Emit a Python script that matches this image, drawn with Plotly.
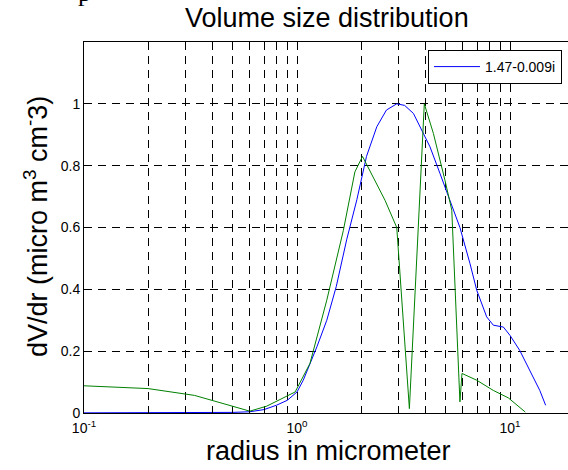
import plotly.graph_objects as go
import math

# ---- data ----
r_blue = [0.1, 0.2, 0.3, 0.4, 0.5, 0.6, 0.7, 0.8, 0.9, 1.0, 1.07, 1.24, 1.38, 1.53, 1.71,
          1.91, 2.12, 2.37, 2.63, 2.94, 3.2, 3.52, 3.92, 4.21, 4.69, 5.23, 5.82, 6.49, 6.98,
          7.77, 8.35, 9.31, 10.0, 11.1, 12.4, 13.8, 14.7]
v_blue = [0.0005, 0.0007, 0.001, 0.0015, 0.002, 0.004, 0.011, 0.025, 0.041, 0.068, 0.106,
          0.214, 0.30, 0.41, 0.56, 0.69, 0.83, 0.926, 0.98, 1.0, 0.995, 0.969, 0.904, 0.861,
          0.775, 0.688, 0.60, 0.483, 0.397, 0.311, 0.284, 0.278, 0.251, 0.203, 0.138, 0.073,
          0.025]

r_green = [0.1, 0.2, 0.33, 0.6, 0.72, 0.98, 1.15, 1.38, 1.65, 1.87, 2.03, 2.28, 2.59, 2.94,
           3.37, 3.96, 4.37, 4.95, 5.33, 5.82, 5.95, 6.98, 8.35, 9.82, 11.8]
v_green = [0.088, 0.079, 0.057, 0.006, 0.022, 0.068, 0.16, 0.365, 0.59, 0.78, 0.83, 0.764,
           0.688, 0.60, 0.014, 1.0, 0.904, 0.753, 0.656, 0.036, 0.128, 0.106, 0.073, 0.049,
           0.003]

legend_name = "1.47-0.009i"
title_text = "Volume size distribution"
xlabel_text = "radius in micrometer"
ylabel_text = "dV/dr (micro m<sup>3</sup> cm<sup>-</sup>3)"

x_tickvals = [0.1, 0.2, 0.3, 0.4, 0.5, 0.6, 0.7, 0.8, 0.9,
              1, 2, 3, 4, 5, 6, 7, 8, 9, 10, 20]
x_ticktext = ["10<sup>-1</sup>"] + [""] * 8 + ["10<sup>0</sup>"] + [""] * 8 + ["10<sup>1</sup>", ""]
y_tickvals = [0, 0.2, 0.4, 0.6, 0.8, 1.0]
y_ticktext = ["0", "0.2", "0.4", "0.6", "0.8", "1"]

FONT = "Liberation Sans, Arial, sans-serif"

fig = go.Figure()
fig.add_trace(go.Scatter(x=r_blue, y=v_blue, mode="lines", name=legend_name,
                         line=dict(color="#0000FF", width=1)))
fig.add_trace(go.Scatter(x=r_green, y=v_green, mode="lines", showlegend=False,
                         line=dict(color="#008000", width=1)))

W, H = 568, 470
L, R, T, B = 84, 0, 42, 57
pw = W - L - R
ph = H - T - B

def px_x(px):
    return (px - L) / pw

def px_y(py):
    return (H - B - py) / ph

fig.update_layout(
    width=W, height=H,
    margin=dict(l=L, r=R, t=T, b=B),
    paper_bgcolor="white", plot_bgcolor="white",
    font=dict(family=FONT, size=14, color="black"),
    showlegend=True,
    legend=dict(x=px_x(562), y=px_y(50), xanchor="right", yanchor="top",
                bgcolor="white", bordercolor="black", borderwidth=1,
                font=dict(size=14), itemwidth=46, tracegroupgap=0),
    xaxis=dict(type="log", range=[-1, (568 - 297) / 213],
               tickmode="array", tickvals=x_tickvals, ticktext=x_ticktext,
               ticks="inside", ticklen=5, tickcolor="black", ticklabelstandoff=2,
               showline=True, linecolor="black", linewidth=1, mirror="allticks",
               showgrid=True, gridcolor="black", gridwidth=1, griddash="8px,6px",
               zeroline=False, tickfont=dict(size=14)),
    yaxis=dict(range=[0, 1.2], tickmode="array", tickvals=y_tickvals, ticktext=y_ticktext,
               ticks="inside", ticklen=5, tickcolor="black",
               showline=True, linecolor="black", linewidth=1, mirror=False,
               showgrid=True, gridcolor="black", gridwidth=1, griddash="8px,6px",
               zeroline=False, tickfont=dict(size=14)),
    annotations=[
        dict(text=title_text, xref="paper", yref="paper", x=px_x(327), y=px_y(18),
             xanchor="center", yanchor="middle", showarrow=False,
             font=dict(size=27, family=FONT)),
        dict(text=xlabel_text, xref="paper", yref="paper", x=px_x(328), y=px_y(451),
             xanchor="center", yanchor="middle", showarrow=False,
             font=dict(size=27, family=FONT)),
        dict(text=ylabel_text, xref="paper", yref="paper", x=px_x(36), y=px_y(227),
             xanchor="center", yanchor="middle", showarrow=False, textangle=-90,
             font=dict(size=27, family=FONT)),
        dict(text="p", xref="paper", yref="paper", x=px_x(76), y=px_y(-8),
             xanchor="left", yanchor="middle", showarrow=False,
             font=dict(size=26, family="Liberation Serif, Times New Roman, serif")),
    ],
)

fig.write_html("out.html")
